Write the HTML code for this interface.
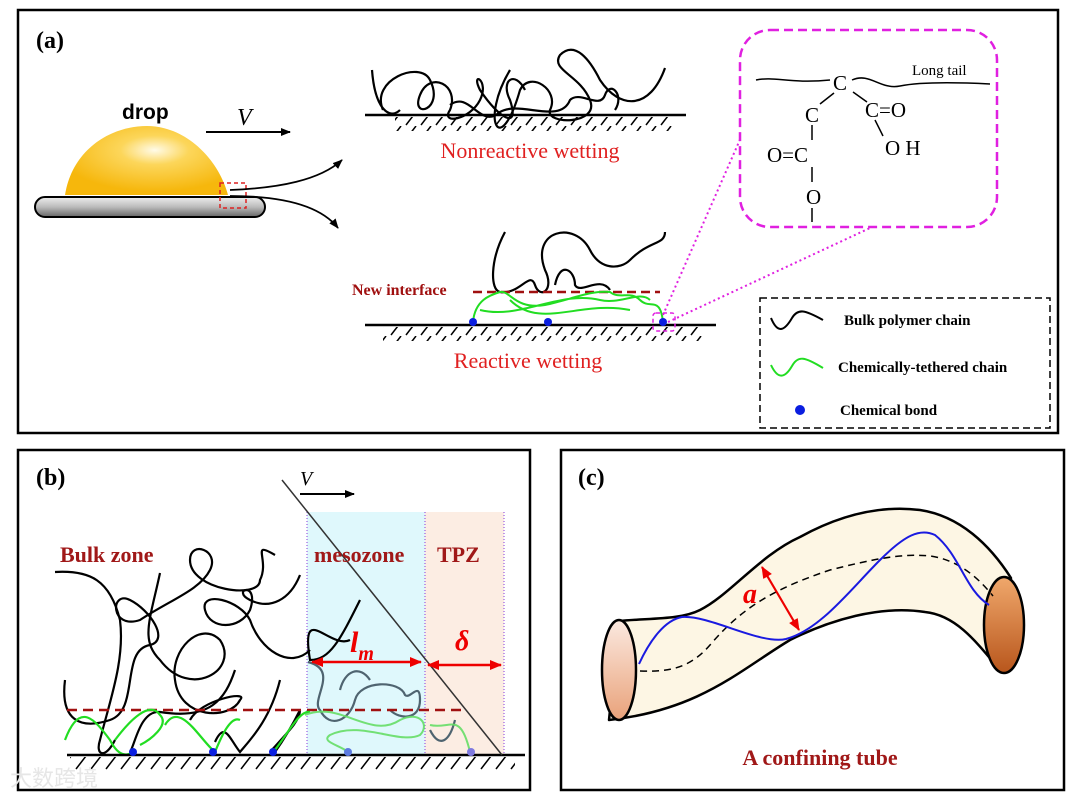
<!DOCTYPE html>
<html><head><meta charset="utf-8"><style>
html,body{margin:0;padding:0;background:#fff;width:1080px;height:800px;overflow:hidden}
svg{display:block}
.sf{font-family:"Liberation Serif",serif}
.ss{font-family:"Liberation Sans",sans-serif}
</style></head><body>
<svg width="1080" height="800" viewBox="0 0 1080 800" xmlns="http://www.w3.org/2000/svg">
<defs>
<radialGradient id="dg" cx="0.55" cy="0.35" r="0.6">
<stop offset="0" stop-color="#fffbe8"/><stop offset="0.35" stop-color="#fcd65a"/><stop offset="1" stop-color="#f6b70c"/></radialGradient>
<linearGradient id="pg" x1="0" y1="0" x2="0" y2="1">
<stop offset="0" stop-color="#eee"/><stop offset="0.5" stop-color="#bbb"/><stop offset="1" stop-color="#666"/></linearGradient>
<linearGradient id="le" x1="0" y1="0" x2="0" y2="1"><stop offset="0" stop-color="#fbe9e0"/><stop offset="1" stop-color="#e9a27a"/></linearGradient>
<linearGradient id="re" x1="0" y1="0" x2="0" y2="1"><stop offset="0" stop-color="#f0a86c"/><stop offset="1" stop-color="#b8561c"/></linearGradient>
<marker id="ah" markerWidth="10" markerHeight="8" refX="9" refY="4" orient="auto" markerUnits="userSpaceOnUse"><path d="M0,0 L10,4 L0,8 z" fill="#000"/></marker>
<marker id="rh" markerWidth="12" markerHeight="10" refX="11" refY="5" orient="auto-start-reverse" markerUnits="userSpaceOnUse"><path d="M0,0 L12,5 L0,10 z" fill="#e00"/></marker>
<pattern id="hatch" width="15" height="14" patternUnits="userSpaceOnUse"><path d="M11,0 L1,13" stroke="#000" stroke-width="1.5"/></pattern>
</defs>

<!-- Panel a -->
<rect x="18" y="10" width="1040" height="423" fill="none" stroke="#000" stroke-width="2.5"/>
<text x="36" y="48" class="sf" font-size="24" font-weight="bold">(a)</text>
<path d="M65,195 C72,150 110,126 147,126 C185,126 218,158 228,195 Z" fill="url(#dg)"/>
<rect x="35" y="197" width="230" height="20" rx="10" fill="url(#pg)" stroke="#000" stroke-width="2"/>
<rect x="220" y="183" width="26" height="25" fill="none" stroke="#d22" stroke-width="1.5" stroke-dasharray="4,3"/>
<text x="122" y="119" class="ss" font-size="21" font-weight="bold">drop</text>
<text x="237" y="125" class="sf" font-size="24" font-style="italic">V</text>
<line x1="206" y1="132" x2="290" y2="132" stroke="#000" stroke-width="2" marker-end="url(#ah)"/>
<path d="M230,190 C280,188 320,180 342,160" fill="none" stroke="#000" stroke-width="1.8" marker-end="url(#ah)"/>
<path d="M230,196 C280,196 320,205 338,228" fill="none" stroke="#000" stroke-width="1.8" marker-end="url(#ah)"/>

<!-- nonreactive -->
<line x1="365" y1="115" x2="686" y2="115" stroke="#000" stroke-width="2.5"/>
<rect x="395" y="117" width="280" height="14" fill="url(#hatch)"/>
<g fill="none" stroke="#000" stroke-width="2.2">
<path d="M372,70 C375,110 390,120 400,110 M383,110 C370,80 420,60 430,80 C445,110 410,120 420,95 C430,70 460,85 450,110 C440,125 470,120 480,100 C490,80 470,70 480,90 C500,120 520,130 510,100 C500,80 515,70 525,90"/>
<path d="M510,70 C480,120 500,160 520,90 C530,70 560,90 550,110 C545,125 600,125 590,100 C580,75 550,70 560,55 C575,40 590,60 600,80 C620,110 650,110 665,68"/>
<path d="M450,105 C470,90 480,130 500,112 C520,100 560,125 570,100 C580,90 600,110 605,95 C610,80 625,95 615,110"/>
</g>
<text x="530" y="158" class="sf" font-size="22" fill="#e02020" text-anchor="middle">Nonreactive wetting</text>

<!-- reactive -->
<line x1="365" y1="325" x2="716" y2="325" stroke="#000" stroke-width="2.5"/>
<rect x="383" y="327" width="320" height="14" fill="url(#hatch)"/>
<g fill="none" stroke="#000" stroke-width="2.2">
<path d="M505,232 C490,260 490,290 500,292 C520,295 530,270 535,285 C540,300 555,290 545,270 C530,230 575,220 590,250 C600,270 620,270 630,260 C650,240 665,245 665,232"/>
<path d="M555,285 C560,260 575,270 575,285 C580,295 600,275 610,290"/>
</g>
<line x1="473" y1="292" x2="660" y2="292" stroke="#a01010" stroke-width="2.5" stroke-dasharray="9,5"/>
<text x="352" y="295" class="sf" font-size="16" font-weight="bold" fill="#a01010">New interface</text>
<path d="M473,322 C475,300 490,295 500,292 C510,290 515,310 545,305 C570,300 590,290 610,292 C620,300 630,290 640,300 C650,310 660,295 663,322 M480,310 C520,320 560,290 600,300 C620,305 640,290 650,300 M510,300 C540,330 580,300 630,310" fill="none" stroke="#22dd22" stroke-width="2"/>
<circle cx="473" cy="322" r="4" fill="#0a1ee0"/>
<circle cx="548" cy="322" r="4" fill="#0a1ee0"/>
<circle cx="663" cy="322" r="4" fill="#0a1ee0"/>
<rect x="653" y="313" width="22" height="18" rx="3" fill="none" stroke="#e020e0" stroke-width="1.5" stroke-dasharray="4,3"/>
<text x="528" y="368" class="sf" font-size="22" fill="#e02020" text-anchor="middle">Reactive wetting</text>

<!-- chem box -->
<line x1="663" y1="315" x2="742" y2="135" stroke="#e020e0" stroke-width="2" stroke-dasharray="2,3"/>
<line x1="668" y1="322" x2="870" y2="228" stroke="#e020e0" stroke-width="2" stroke-dasharray="2,3"/>
<rect x="740" y="30" width="257" height="197" rx="30" fill="#fff" stroke="#e020e0" stroke-width="2.5" stroke-dasharray="9,5"/>
<path d="M756,80 C775,76 790,84 830,80 M852,80 C870,72 880,90 900,86 C920,82 950,82 990,84" fill="none" stroke="#000" stroke-width="1.5"/>
<g class="sf" font-size="21">
<text x="833" y="90">C</text><text x="805" y="122">C</text><text x="865" y="117">C=O</text>
<text x="885" y="155">O H</text><text x="767" y="162">O=C</text><text x="806" y="204">O</text>
</g>
<text x="912" y="75" class="sf" font-size="15">Long tail</text>
<g stroke="#000" stroke-width="1.5"><line x1="820" y1="104" x2="834" y2="93"/><line x1="853" y1="92" x2="867" y2="102"/><line x1="812" y1="125" x2="812" y2="140"/><line x1="812" y1="167" x2="812" y2="182"/><line x1="875" y1="120" x2="883" y2="136"/><line x1="812" y1="208" x2="812" y2="222"/></g>

<!-- legend -->
<rect x="760" y="298" width="290" height="130" fill="none" stroke="#000" stroke-width="1.5" stroke-dasharray="7,4"/>
<path d="M771,318 C778,335 785,330 792,318 C798,308 805,310 823,320" fill="none" stroke="#000" stroke-width="2"/>
<path d="M771,365 C778,380 785,378 792,366 C798,355 805,357 823,368" fill="none" stroke="#22dd22" stroke-width="2"/>
<circle cx="800" cy="410" r="5" fill="#0a1ee0"/>
<g class="sf" font-size="15" font-weight="bold"><text x="844" y="325">Bulk polymer chain</text><text x="838" y="372">Chemically-tethered  chain</text><text x="840" y="415">Chemical  bond</text></g>

<!-- Panel b -->
<rect x="18" y="450" width="512" height="340" fill="none" stroke="#000" stroke-width="2.5"/>
<rect x="307" y="512" width="118" height="243" fill="#dff8fc"/>
<rect x="425" y="512" width="79" height="243" fill="#fcede3"/>
<g stroke="#9a5ae0" stroke-width="1.2" stroke-dasharray="1,2"><line x1="307" y1="512" x2="307" y2="755"/><line x1="425" y1="512" x2="425" y2="755"/><line x1="504" y1="512" x2="504" y2="760"/></g>
<text x="36" y="485" class="sf" font-size="24" font-weight="bold">(b)</text>
<text x="300" y="485" class="sf" font-size="20" font-style="italic">V</text>
<line x1="300" y1="494" x2="354" y2="494" stroke="#000" stroke-width="2" marker-end="url(#ah)"/>
<g fill="none" stroke="#000" stroke-width="2.2">
<path d="M55,572 C90,570 110,580 120,620 C125,660 110,700 100,740 C95,755 105,760 115,740"/>
<path d="M160,573 C150,620 140,640 160,660 C190,700 240,670 220,640 C200,620 170,650 175,680 C180,720 230,720 240,700 C250,690 200,700 190,720"/>
<path d="M65,680 C60,720 80,730 110,720 C140,710 120,650 150,645 C170,640 150,610 130,600 C110,590 110,630 140,620 C170,600 200,590 210,570 C220,550 190,540 190,560 C190,590 260,600 260,580 C270,560 250,540 275,555"/>
<path d="M300,575 C290,600 270,610 250,600 C230,590 260,580 250,610 C240,630 210,630 205,610 C200,590 240,600 250,620 C260,650 290,670 310,650"/>
<path d="M360,600 C340,640 330,660 310,660 C300,600 330,650 350,640"/>
<path d="M235,670 C225,700 210,720 160,712 C140,710 135,745 130,752 M280,680 C270,720 250,740 240,752 C230,740 225,720 215,742"/>
<path d="M270,752 C290,730 300,720 300,710 C290,730 280,745 275,752"/>
</g>
<g fill="none" stroke="#4f6470" stroke-width="2.2">
<path d="M308,662 C340,670 310,700 320,710 C330,730 350,720 355,700 C360,680 400,680 405,695 C410,700 420,680 420,700 C420,720 400,720 390,710 M340,690 C345,670 360,665 370,680 M430,730 C440,750 450,740 455,720"/>
</g>
<line x1="67" y1="710" x2="465" y2="710" stroke="#a01010" stroke-width="2.5" stroke-dasharray="10,6"/>
<g fill="none" stroke="#22dd22" stroke-width="2.2">
<path d="M65,740 C80,700 95,720 110,740 C120,760 130,755 135,750 M115,740 C130,720 150,700 160,715 C170,725 150,740 140,745 M165,725 C180,700 200,740 215,752 C220,740 230,715 240,720 M275,750 C290,730 300,710 310,712"/>
</g>
<g fill="none" stroke="#66dd66" stroke-width="2" opacity="0.9">
<path d="M305,715 C340,700 370,740 400,720 C420,710 430,725 420,735 C400,745 360,720 330,735 C320,742 340,745 348,752 M430,725 C450,730 460,710 470,752"/>
</g>
<line x1="67" y1="755" x2="525" y2="755" stroke="#000" stroke-width="2.5"/>
<rect x="70" y="757" width="445" height="13" fill="url(#hatch)"/>
<circle cx="133" cy="752" r="4" fill="#0a1ee0"/><circle cx="213" cy="752" r="4" fill="#0a1ee0"/><circle cx="273" cy="752" r="4" fill="#0a1ee0"/><circle cx="348" cy="752" r="4" fill="#5b7ae0"/><circle cx="471" cy="752" r="4" fill="#7f7ae0"/>
<line x1="282" y1="480" x2="502" y2="755" stroke="#333" stroke-width="1.5"/>
<g class="sf" font-size="22" font-weight="bold" fill="#a01818"><text x="60" y="562">Bulk zone</text><text x="314" y="562">mesozone</text><text x="437" y="562">TPZ</text></g>
<line x1="312" y1="662" x2="421" y2="662" stroke="#e00" stroke-width="2.5" marker-start="url(#rh)" marker-end="url(#rh)"/>
<line x1="428" y1="665" x2="501" y2="665" stroke="#e00" stroke-width="2.5" marker-start="url(#rh)" marker-end="url(#rh)"/>
<text x="350" y="652" class="sf" font-size="30" font-style="italic" font-weight="bold" fill="#e00">l<tspan font-size="20" dy="8">m</tspan></text>
<text x="455" y="650" class="sf" font-size="28" font-style="italic" font-weight="bold" fill="#e00">δ</text>
<text x="10" y="786" class="ss" font-size="22" fill="#e6e6e6">大数跨境</text>

<!-- Panel c -->
<rect x="561" y="450" width="503" height="340" fill="none" stroke="#000" stroke-width="2.5"/>
<text x="578" y="485" class="sf" font-size="24" font-weight="bold">(c)</text>
<path d="M619,621 C650,618 680,620 700,610 C730,595 760,555 800,537 C840,515 880,505 920,510 C960,516 990,545 1011,578 L998,668 C975,640 955,615 925,612 C880,605 830,620 790,640 C740,670 700,710 609,720 Z" fill="#fdf6e4" stroke="#000" stroke-width="2.5" stroke-linejoin="round"/>
<ellipse cx="619" cy="670" rx="17" ry="50" fill="url(#le)" stroke="#000" stroke-width="2.5"/>
<ellipse cx="1004" cy="625" rx="20" ry="48" fill="url(#re)" stroke="#000" stroke-width="2.5"/>
<path d="M640,671 C670,672 690,668 710,645 C740,610 770,590 830,570 C870,560 900,553 930,556 C960,560 980,580 993,596" fill="none" stroke="#000" stroke-width="1.5" stroke-dasharray="7,5"/>
<path d="M639,664 C650,640 665,620 682,617 C710,615 760,645 786,639 C820,630 850,590 880,560 C905,535 920,528 935,535 C960,555 965,590 989,605" fill="none" stroke="#1a1ae0" stroke-width="2"/>
<line x1="762" y1="567" x2="799" y2="630" stroke="#e00" stroke-width="2.2" marker-start="url(#rh)" marker-end="url(#rh)"/>
<text x="743" y="603" class="sf" font-size="28" font-style="italic" font-weight="bold" fill="#e00">a</text>
<text x="820" y="765" class="sf" font-size="22" font-weight="bold" fill="#a01818" text-anchor="middle">A confining tube</text>
</svg>
</body></html>
